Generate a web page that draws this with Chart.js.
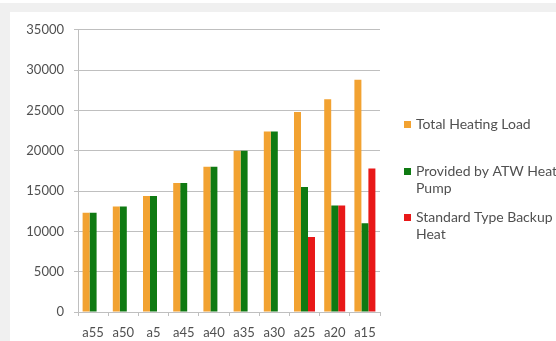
<!DOCTYPE html>
<html>
<head>
<meta charset="utf-8">
<script src="https://cdn.jsdelivr.net/npm/chart.js@4/dist/chart.umd.min.js"></script>
<style>
  html, body { margin: 0; padding: 0; background: #fff; }
  body { width: 556px; height: 341px; position: relative; overflow: hidden; }
  .band-top { position: absolute; left: 0; top: 3px; width: 556px; height: 9px; background: #f0f0f0; }
  .band-left { position: absolute; left: 0; top: 3px; width: 10px; height: 338px; background: #f0f0f0; }
  #wrap { position: absolute; left: 10px; top: 12px; width: 546px; height: 329px; }
</style>
</head>
<body>
<div class="band-top"></div>
<div class="band-left"></div>
<div id="wrap"><canvas id="chart"></canvas></div>
<script>
const categories = ["a55", "a50", "a5", "a45", "a40", "a35", "a30", "a25", "a20", "a15"];
const totalLoad = [12300, 13100, 14400, 16000, 18000, 20000, 22400, 24800, 26400, 28800];
const heatPump = [12300, 13100, 14400, 16000, 18000, 20000, 22400, 15500, 13200, 11000];
const backupHeat = [null, null, null, null, null, null, null, 9300, 13200, 17800];
const seriesNames = ["Total Heating Load", "Provided by ATW Heat\nPump", "Standard Type Backup\nHeat"];
const yTicks = [0, 5000, 10000, 15000, 20000, 25000, 30000, 35000];

const colors = ["#f2a231", "#0f7a12", "#e81818"];
const axisGray = "#bfbfbf";
const textGray = "#505050";

// legend drawn by hand so long names can wrap like the original
const sideLegend = {
  id: "sideLegend",
  afterDraw(chart) {
    const ctx = chart.ctx;
    const x = 394;
    const rows = [112, 159, 205];
    ctx.save();
    ctx.font = "14px Lato";
    ctx.textBaseline = "middle";
    chart.data.datasets.forEach((ds, i) => {
      ctx.fillStyle = ds.backgroundColor;
      ctx.fillRect(x, rows[i] - 3, 7, 7);
      ctx.fillStyle = textGray;
      ds.label.split("\n").forEach((line, j) => {
        ctx.fillText(line, x + 12, rows[i] + j * 17);
      });
    });
    ctx.restore();
  }
};

new Chart(document.getElementById("chart"), {
  type: "bar",
  data: {
    labels: categories,
    datasets: [
      { label: seriesNames[0], data: totalLoad, backgroundColor: colors[0] },
      { label: seriesNames[1], data: heatPump, backgroundColor: colors[1] },
      { label: seriesNames[2], data: backupHeat, backgroundColor: colors[2] }
    ]
  },
  options: {
    responsive: true,
    maintainAspectRatio: false,
    animation: false,
    layout: { padding: { left: 0, right: 176, top: 9, bottom: 0 } },
    datasets: { bar: { categoryPercentage: 0.695, barPercentage: 1.0 } },
    plugins: { legend: { display: false }, tooltip: { enabled: false } },
    scales: {
      x: {
        grid: { display: true, drawOnChartArea: false, drawTicks: true, tickLength: 4, color: axisGray, offset: true },
        border: { display: true, color: axisGray },
        ticks: { color: textGray, font: { family: "Lato", size: 13 }, padding: 9, maxRotation: 0 },
        afterFit(scale) { scale.height = 29; }
      },
      y: {
        min: 0,
        max: 35000,
        afterBuildTicks(scale) { scale.ticks = yTicks.map(v => ({ value: v })); },
        grid: { color: axisGray, tickLength: 4 },
        border: { display: true, color: axisGray },
        ticks: { color: textGray, font: { family: "Lato", size: 13 }, padding: 10, callback: v => String(v) },
        afterFit(scale) { scale.width = 68; }
      }
    }
  },
  plugins: [sideLegend]
});
</script>
</body>
</html>
